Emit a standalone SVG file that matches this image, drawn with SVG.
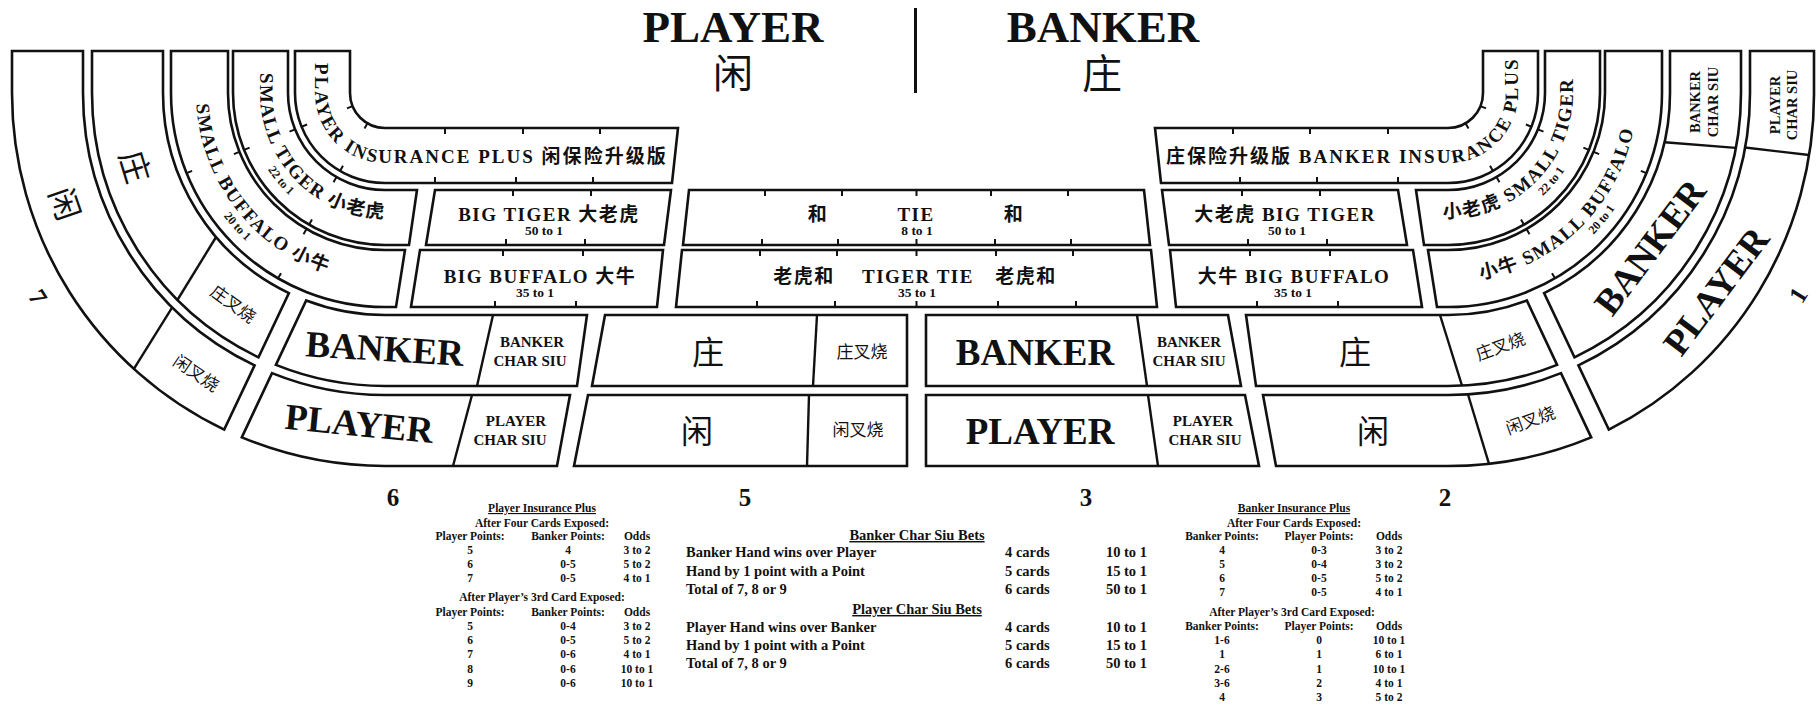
<svg xmlns="http://www.w3.org/2000/svg" width="1816" height="705" viewBox="0 0 1816 705">
<style>
.c{fill:#fff;stroke:#111;stroke-width:2.6;stroke-linejoin:miter}
.d{fill:none;stroke:#111;stroke-width:2.4}
.tk{fill:none;stroke:#111;stroke-width:2}
text{fill:#111}
.s{font-family:"Liberation Serif","Noto Sans CJK SC",serif;font-weight:bold}
.k{font-family:"Noto Sans CJK SC",sans-serif;font-weight:400}
.m{text-anchor:middle}
.e{text-anchor:end}
.cen{dominant-baseline:central}
.arc{font-size:19px;letter-spacing:2px}
.arc2{font-size:19px;letter-spacing:1.5px}
.odd{font-size:13.5px}
.odd2{font-size:12px}
.big{font-size:37px}
.cs{font-size:15px}
.tb{font-size:11.5px}
.mt{font-size:14.5px}
.u{text-decoration:underline}
</style>
<defs>
<path id="p-ins" class="c" d="M295,51 H350 V93 A35,35 0 0 0 385,128 H678 L672,183 H385 A90,90 0 0 1 295,93 Z"/>
<path id="p-stiger" class="c" d="M233,51 H288 V93 A97,97 0 0 0 385,190 H417 L409,245 H385 A152,152 0 0 1 233,93 Z"/>
<path id="p-sbuff" class="c" d="M171,51 H228 V93 A157,157 0 0 0 385,250 H405 L396,307 H385 A214,214 0 0 1 171,93 Z"/>
<path id="p-b4a" class="c" d="M92,51 H163 V93 A222,222 0 0 0 288.9,293.1 L258.5,357.3 A293,293 0 0 1 92,93 Z"/>
<path id="p-b4b" class="c" d="M306.2,300.5 A222,222 0 0 0 385,315 H587 L577,386 H385 A293,293 0 0 1 275.9,364.9 Z"/>
<path id="p-b5b" class="c" d="M272,373.1 A302,302 0 0 0 385,395 H570 L557,466 H385 A373,373 0 0 1 241.8,437.4 Z"/>
<path id="p-bigtiger" class="c" d="M435,190 H671 L664,245 H426 Z"/>
<path id="p-bigbuff" class="c" d="M420,250 H663 L657,307 H411 Z"/>
<path id="p-box4" class="c" d="M605,315 H907 V386 H592 Z"/>
<path id="p-box5" class="c" d="M588,395 H907 V466 H574 Z"/>
<path id="tp-insL" d="M315,40 V93 A70,70 0 0 0 385,163 H720"/>
<path id="tp-stL" d="M260,40 V93 A125,125 0 0 0 385,218 H500"/>
<path id="tp-22L" d="M245,40 V93 A140,140 0 0 0 385,233"/>
<path id="tp-sbL" d="M196,40 V93 A189,189 0 0 0 385,282 H500"/>
<path id="tp-20L" d="M182,40 V93 A203,203 0 0 0 385,296"/>
<path id="tp-insR" d="M1140,163 H1448 A70,70 0 0 0 1518,93 V30"/>
<path id="tp-stR" d="M1300,218 H1448 A125,125 0 0 0 1573,93 V30"/>
<path id="tp-22R" d="M1300,233 H1448 A140,140 0 0 0 1588,93"/>
<path id="tp-sbR" d="M1300,282 H1448 A189,189 0 0 0 1637,93 V30"/>
<path id="tp-20R" d="M1300,296 H1448 A203,203 0 0 0 1651,93"/>
</defs>
<rect width="1816" height="705" fill="#fff"/>

<g id="title">
<text class="s m" x="733" y="42" font-size="45">PLAYER</text>
<text class="k m" x="733" y="88" font-size="40">闲</text>
<line x1="915.5" y1="8" x2="915.5" y2="93" stroke="#111" stroke-width="3"/>
<text class="s m" x="1103" y="42" font-size="45">BANKER</text>
<text class="k m" x="1102" y="88" font-size="40">庄</text>
</g>

<!-- LEFT SIDE -->
<g id="player-insurance-plus">
<use href="#p-ins"/>
<text class="s arc"><textPath href="#tp-insL" startOffset="23">PLAYER INSURANCE PLUS 闲保险升级版</textPath></text>
</g>
<g id="small-tiger-left">
<use href="#p-stiger"/>
<text class="s arc2"><textPath href="#tp-stL" startOffset="33">SMALL TIGER 小老虎</textPath></text>
<text class="s odd2 m"><textPath href="#tp-22L" startOffset="151">22 to 1</textPath></text>
</g>
<g id="small-buffalo-left">
<use href="#p-sbuff"/>
<text class="s arc2"><textPath href="#tp-sbL" startOffset="64">SMALL BUFFALO 小牛</textPath></text>
<text class="s odd2 m"><textPath href="#tp-20L" startOffset="202">20 to 1</textPath></text>
</g>
<g id="banker-arc-left">
<use href="#p-b4a"/>
<line class="d" x1="177.1" y1="300.5" x2="216.1" y2="237"/>
<text class="k m cen" font-size="32" transform="translate(137,166) rotate(73)">庄</text>
<text class="k m cen" font-size="17" transform="translate(234,303) rotate(36)">庄叉烧</text>
</g>
<g id="player-arc-left">
<path class="c" d="M12,51 H83 V93 A302,302 0 0 0 254.6,365.4 L224.2,429.6 A373,373 0 0 1 12,93 Z"/>
<line class="d" x1="133.9" y1="368.8" x2="172.2" y2="307.3"/>
<text class="k m cen" font-size="32" transform="translate(67,203) rotate(71)">闲</text>
<text class="k m cen" font-size="17" transform="translate(197,372) rotate(34)">闲叉烧</text>
</g>
<g id="banker-left">
<use href="#p-b4b"/>
<line class="d" x1="493" y1="315" x2="477" y2="386"/>
<text class="s big m" transform="translate(384,361) rotate(3.5)">BANKER</text>
<text class="s cs m" x="532" y="347">BANKER</text>
<text class="s cs m" x="530" y="366">CHAR SIU</text>
</g>
<g id="player-left">
<use href="#p-b5b"/>
<line class="d" x1="472" y1="395" x2="453" y2="466"/>
<text class="s big m" transform="translate(358,436) rotate(5.5)">PLAYER</text>
<text class="s cs m" x="516" y="426">PLAYER</text>
<text class="s cs m" x="510" y="445">CHAR SIU</text>
</g>
<g id="big-tiger-left">
<use href="#p-bigtiger"/>
<text class="s arc2 m" x="549" y="221">BIG TIGER 大老虎</text>
<text class="s odd m" x="544" y="235">50 to 1</text>
</g>
<g id="big-buffalo-left">
<use href="#p-bigbuff"/>
<text class="s arc2 m" x="540" y="283">BIG BUFFALO 大牛</text>
<text class="s odd m" x="535" y="297">35 to 1</text>
</g>
<g id="zhuang-left">
<use href="#p-box4"/>
<line class="d" x1="817" y1="315" x2="813" y2="386"/>
<text class="k m" x="708" y="364" font-size="32">庄</text>
<text class="k m" x="862" y="358" font-size="17">庄叉烧</text>
</g>
<g id="xian-left">
<use href="#p-box5"/>
<line class="d" x1="809" y1="395" x2="807" y2="466"/>
<text class="k m" x="697" y="443" font-size="32">闲</text>
<text class="k m" x="858" y="436" font-size="17">闲叉烧</text>
</g>

<!-- CENTER -->
<g id="tie">
<path class="c" d="M689,190 H1144 L1150,245 H683 Z"/>
<text class="s arc2 m" x="818" y="221">和</text>
<text class="s arc2 m" x="916" y="221">TIE</text>
<text class="s odd m" x="917" y="235">8 to 1</text>
<text class="s arc2 m" x="1014" y="221">和</text>
</g>
<g id="tiger-tie">
<path class="c" d="M682,250 H1151 L1157,307 H676 Z"/>
<text class="s arc2 m" x="804" y="283">老虎和</text>
<text class="s arc2 m" x="918" y="283">TIGER TIE</text>
<text class="s odd m" x="917" y="297">35 to 1</text>
<text class="s arc2 m" x="1026" y="283">老虎和</text>
</g>

<!-- RIGHT SIDE -->
<g id="banker-insurance-plus">
<use href="#p-ins" transform="matrix(-1 0 0 1 1833 0)"/>
<text class="s arc"><textPath href="#tp-insR" startOffset="26">庄保险升级版 BANKER INSURANCE PLUS</textPath></text>
</g>
<g id="small-tiger-right">
<use href="#p-stiger" transform="matrix(-1 0 0 1 1833 0)"/>
<text class="s arc2"><textPath href="#tp-stR" startOffset="143">小老虎 SMALL TIGER</textPath></text>
<text class="s odd2 m"><textPath href="#tp-22R" startOffset="269">22 to 1</textPath></text>
</g>
<g id="small-buffalo-right">
<use href="#p-sbuff" transform="matrix(-1 0 0 1 1833 0)"/>
<text class="s arc2"><textPath href="#tp-sbR" startOffset="181">小牛 SMALL BUFFALO</textPath></text>
<text class="s odd2 m"><textPath href="#tp-20R" startOffset="327">20 to 1</textPath></text>
</g>
<g id="banker-arc-right">
<use href="#p-b4a" transform="matrix(-1 0 0 1 1833 0)"/>
<line class="d" x1="1664.5" y1="142.2" x2="1735.8" y2="147.9"/>
<text class="s m" font-size="14.5" transform="translate(1704,102) rotate(-90)"><tspan x="0" y="-4">BANKER</tspan><tspan x="0" y="14">CHAR SIU</tspan></text>
<text class="s big m cen" transform="translate(1650,247) rotate(-53)">BANKER</text>
</g>
<g id="player-arc-right">
<path class="c" transform="matrix(-1 0 0 1 1833 0)" d="M19,51 H83 V93 A302,302 0 0 0 254.6,365.4 L224.2,429.6 A366,373 0 0 1 19,93 Z"/>
<line class="d" x1="1745" y1="147.5" x2="1809" y2="155"/>
<text class="s m" font-size="14.5" transform="translate(1783,105) rotate(-90)"><tspan x="0" y="-3">PLAYER</tspan><tspan x="0" y="14">CHAR SIU</tspan></text>
<text class="s big m cen" transform="translate(1716,291) rotate(-53)">PLAYER</text>
</g>
<g id="zhuang-right">
<use href="#p-b4b" transform="matrix(-1 0 0 1 1833 0)"/>
<line class="d" x1="1440" y1="315" x2="1462" y2="385.7"/>
<text class="k m" x="1355" y="364" font-size="32">庄</text>
<text class="k m cen" font-size="17" transform="translate(1500,345) rotate(-20)">庄叉烧</text>
</g>
<g id="xian-right">
<use href="#p-b5b" transform="matrix(-1 0 0 1 1833 0)"/>
<line class="d" x1="1468" y1="394.5" x2="1489" y2="463.8"/>
<text class="k m" x="1373" y="443" font-size="32">闲</text>
<text class="k m cen" font-size="17" transform="translate(1530,419) rotate(-20)">闲叉烧</text>
</g>
<g id="big-tiger-right">
<use href="#p-bigtiger" transform="matrix(-1 0 0 1 1833 0)"/>
<text class="s arc2 m" x="1285" y="221">大老虎 BIG TIGER</text>
<text class="s odd m" x="1287" y="235">50 to 1</text>
</g>
<g id="big-buffalo-right">
<use href="#p-bigbuff" transform="matrix(-1 0 0 1 1833 0)"/>
<text class="s arc2 m" x="1294" y="283">大牛 BIG BUFFALO</text>
<text class="s odd m" x="1293" y="297">35 to 1</text>
</g>
<g id="banker-right">
<use href="#p-box4" transform="matrix(-1 0 0 1 1833 0)"/>
<line class="d" x1="1137" y1="315" x2="1147" y2="386"/>
<text class="s big m" x="1035" y="365">BANKER</text>
<text class="s cs m" x="1189" y="347">BANKER</text>
<text class="s cs m" x="1189" y="366">CHAR SIU</text>
</g>
<g id="player-right">
<use href="#p-box5" transform="matrix(-1 0 0 1 1833 0)"/>
<line class="d" x1="1148" y1="395" x2="1158" y2="466"/>
<text class="s big m" x="1040" y="444">PLAYER</text>
<text class="s cs m" x="1203" y="426">PLAYER</text>
<text class="s cs m" x="1205" y="445">CHAR SIU</text>
</g>

<g id="connectors">
<path id="tkL" class="tk" d="M352.55,106.11 L346.98,108.36 M367.5,123.31 L364.5,128.51 M301.55,126.71 L307.12,124.47 M340,170.94 L343,165.74 M295.06,129.34 L289.5,131.58 M336.5,177 L333.5,182.2 M244.07,149.94 L249.63,147.69 M309,224.63 L312,219.44 M239.43,151.81 L233.87,154.06 M306.5,228.96 L303.5,234.16 M186.58,173.16 L192.14,170.92 M278,278.32 L281,273.13 M445,128 v6 M523,128 v6 M600,128 v6 M435,183 v-6 M516,183 v-6 M593,183 v-6 M513,190 v6 M591,190 v6 M506,245 v-6 M585,245 v-6 M503,250 v6 M583,250 v6 M495,307 v-6 M576,307 v-6"/>
<use href="#tkL" transform="matrix(-1 0 0 1 1833 0)"/>
<path class="tk" d="M765,190 v6 M842,190 v6 M916.5,190 v6 M991,190 v6 M1068,190 v6 M762,245 v-6 M838,245 v-6 M916.5,245 v-6 M995,245 v-6 M1071,245 v-6 M760,250 v6 M837,250 v6 M916.5,250 v6 M996,250 v6 M1073,250 v6 M757,307 v-6 M835,307 v-6 M916.5,307 v-6 M998,307 v-6 M1076,307 v-6"/>
</g>

<g id="position-numbers">
<text class="s m cen" font-size="25" transform="translate(38,297) rotate(58)">7</text>
<text class="s m cen" font-size="25" transform="translate(1798,295) rotate(-58)">1</text>
<text class="s m" font-size="25" x="393" y="506">6</text>
<text class="s m" font-size="25" x="745" y="506">5</text>
<text class="s m" font-size="25" x="1086" y="506">3</text>
<text class="s m" font-size="25" x="1445" y="506">2</text>
</g>

<g id="table-player-insurance" class="s tb">
<text class="m u" x="542" y="512">Player Insurance Plus</text>
<text class="m" x="542" y="527">After Four Cards Exposed:</text>
<text class="m" x="470" y="540">Player Points:</text><text class="m" x="568" y="540">Banker Points:</text><text class="m" x="637" y="540">Odds</text>
<text class="m" x="470" y="554">5</text><text class="m" x="568" y="554">4</text><text class="m" x="637" y="554">3 to 2</text>
<text class="m" x="470" y="568">6</text><text class="m" x="568" y="568">0-5</text><text class="m" x="637" y="568">5 to 2</text>
<text class="m" x="470" y="582">7</text><text class="m" x="568" y="582">0-5</text><text class="m" x="637" y="582">4 to 1</text>
<text class="m" x="542" y="601">After Player’s 3rd Card Exposed:</text>
<text class="m" x="470" y="616">Player Points:</text><text class="m" x="568" y="616">Banker Points:</text><text class="m" x="637" y="616">Odds</text>
<text class="m" x="470" y="630">5</text><text class="m" x="568" y="630">0-4</text><text class="m" x="637" y="630">3 to 2</text>
<text class="m" x="470" y="644">6</text><text class="m" x="568" y="644">0-5</text><text class="m" x="637" y="644">5 to 2</text>
<text class="m" x="470" y="658">7</text><text class="m" x="568" y="658">0-6</text><text class="m" x="637" y="658">4 to 1</text>
<text class="m" x="470" y="673">8</text><text class="m" x="568" y="673">0-6</text><text class="m" x="637" y="673">10 to 1</text>
<text class="m" x="470" y="687">9</text><text class="m" x="568" y="687">0-6</text><text class="m" x="637" y="687">10 to 1</text>
</g>

<g id="table-char-siu" class="s mt">
<text class="m u" x="917" y="540">Banker Char Siu Bets</text>
<text x="686" y="557">Banker Hand wins over Player</text><text x="1005" y="557">4 cards</text><text class="e" x="1147" y="557">10 to 1</text>
<text x="686" y="576">Hand by 1 point with a Point</text><text x="1005" y="576">5 cards</text><text class="e" x="1147" y="576">15 to 1</text>
<text x="686" y="594">Total of 7, 8 or 9</text><text x="1005" y="594">6 cards</text><text class="e" x="1147" y="594">50 to 1</text>
<text class="m u" x="917" y="614">Player Char Siu Bets</text>
<text x="686" y="632">Player Hand wins over Banker</text><text x="1005" y="632">4 cards</text><text class="e" x="1147" y="632">10 to 1</text>
<text x="686" y="650">Hand by 1 point with a Point</text><text x="1005" y="650">5 cards</text><text class="e" x="1147" y="650">15 to 1</text>
<text x="686" y="668">Total of 7, 8 or 9</text><text x="1005" y="668">6 cards</text><text class="e" x="1147" y="668">50 to 1</text>
</g>

<g id="table-banker-insurance" class="s tb">
<text class="m u" x="1294" y="512">Banker Insurance Plus</text>
<text class="m" x="1294" y="527">After Four Cards Exposed:</text>
<text class="m" x="1222" y="540">Banker Points:</text><text class="m" x="1319" y="540">Player Points:</text><text class="m" x="1389" y="540">Odds</text>
<text class="m" x="1222" y="554">4</text><text class="m" x="1319" y="554">0-3</text><text class="m" x="1389" y="554">3 to 2</text>
<text class="m" x="1222" y="568">5</text><text class="m" x="1319" y="568">0-4</text><text class="m" x="1389" y="568">3 to 2</text>
<text class="m" x="1222" y="582">6</text><text class="m" x="1319" y="582">0-5</text><text class="m" x="1389" y="582">5 to 2</text>
<text class="m" x="1222" y="596">7</text><text class="m" x="1319" y="596">0-5</text><text class="m" x="1389" y="596">4 to 1</text>
<text class="m" x="1292" y="616">After Player’s 3rd Card Exposed:</text>
<text class="m" x="1222" y="630">Banker Points:</text><text class="m" x="1319" y="630">Player Points:</text><text class="m" x="1389" y="630">Odds</text>
<text class="m" x="1222" y="644">1-6</text><text class="m" x="1319" y="644">0</text><text class="m" x="1389" y="644">10 to 1</text>
<text class="m" x="1222" y="658">1</text><text class="m" x="1319" y="658">1</text><text class="m" x="1389" y="658">6 to 1</text>
<text class="m" x="1222" y="673">2-6</text><text class="m" x="1319" y="673">1</text><text class="m" x="1389" y="673">10 to 1</text>
<text class="m" x="1222" y="687">3-6</text><text class="m" x="1319" y="687">2</text><text class="m" x="1389" y="687">4 to 1</text>
<text class="m" x="1222" y="701">4</text><text class="m" x="1319" y="701">3</text><text class="m" x="1389" y="701">5 to 2</text>
</g>
</svg>
